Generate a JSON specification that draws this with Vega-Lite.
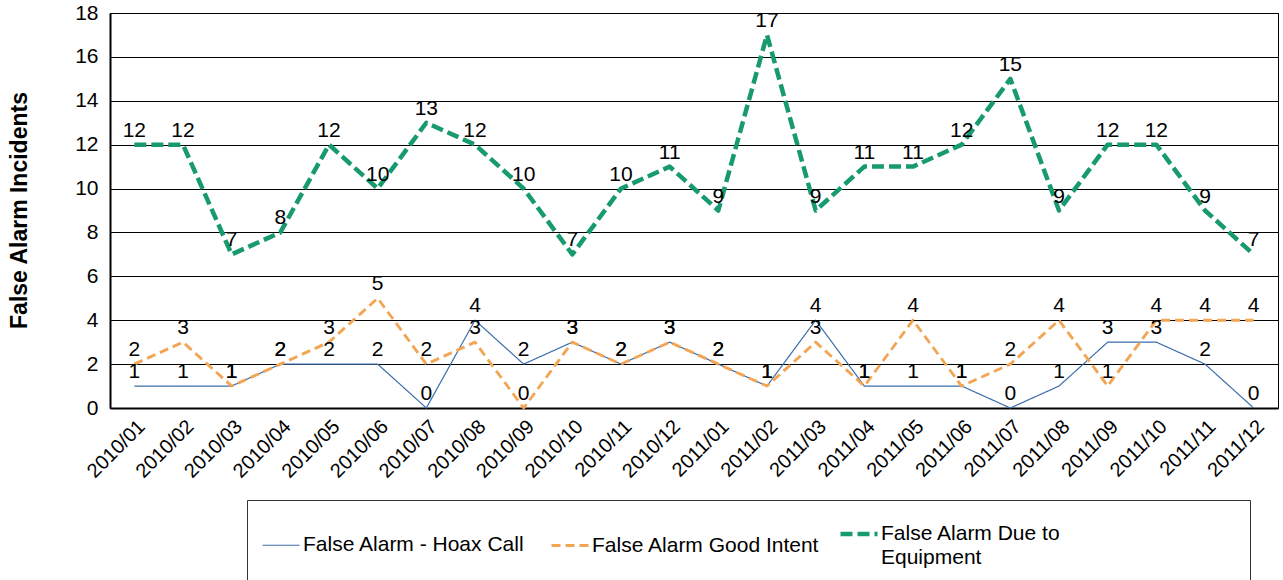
{
  "$schema": "https://vega.github.io/schema/vega-lite/v6.json",
  "width": 1168,
  "height": 395,
  "autosize": "none",
  "padding": {"left": 110, "top": 13, "right": 5, "bottom": 172},
  "background": "white",
  "config": {
    "font": "Liberation Sans",
    "view": {"stroke": "black", "strokeWidth": 1}
  },
  "data": {
    "values": [
      {"month": "2010/01", "hoax": 1, "good": 2, "equip": 12},
      {"month": "2010/02", "hoax": 1, "good": 3, "equip": 12},
      {"month": "2010/03", "hoax": 1, "good": 1, "equip": 7},
      {"month": "2010/04", "hoax": 2, "good": 2, "equip": 8},
      {"month": "2010/05", "hoax": 2, "good": 3, "equip": 12},
      {"month": "2010/06", "hoax": 2, "good": 5, "equip": 10},
      {"month": "2010/07", "hoax": 0, "good": 2, "equip": 13},
      {"month": "2010/08", "hoax": 4, "good": 3, "equip": 12},
      {"month": "2010/09", "hoax": 2, "good": 0, "equip": 10},
      {"month": "2010/10", "hoax": 3, "good": 3, "equip": 7},
      {"month": "2010/11", "hoax": 2, "good": 2, "equip": 10},
      {"month": "2010/12", "hoax": 3, "good": 3, "equip": 11},
      {"month": "2011/01", "hoax": 2, "good": 2, "equip": 9},
      {"month": "2011/02", "hoax": 1, "good": 1, "equip": 17},
      {"month": "2011/03", "hoax": 4, "good": 3, "equip": 9},
      {"month": "2011/04", "hoax": 1, "good": 1, "equip": 11},
      {"month": "2011/05", "hoax": 1, "good": 4, "equip": 11},
      {"month": "2011/06", "hoax": 1, "good": 1, "equip": 12},
      {"month": "2011/07", "hoax": 0, "good": 2, "equip": 15},
      {"month": "2011/08", "hoax": 1, "good": 4, "equip": 9},
      {"month": "2011/09", "hoax": 3, "good": 1, "equip": 12},
      {"month": "2011/10", "hoax": 3, "good": 4, "equip": 12},
      {"month": "2011/11", "hoax": 2, "good": 4, "equip": 9},
      {"month": "2011/12", "hoax": 0, "good": 4, "equip": 7}
    ]
  },
  "transform": [
    {"fold": ["hoax", "good", "equip"], "as": ["key", "value"]},
    {"lookup": "key", "from": {"data": {"values": [
      {"key": "hoax", "series": "False Alarm - Hoax Call"},
      {"key": "good", "series": "False Alarm Good Intent"},
      {"key": "equip", "series": "False Alarm Due to Equipment"}
    ]}, "key": "key", "fields": ["series"]}}
  ],
  "encoding": {
    "x": {
      "field": "month", "type": "ordinal",
      "scale": {"type": "point", "padding": 0.5},
      "axis": {
        "title": null, "labelAngle": -45, "labelFontSize": 20, "labelColor": "black",
        "ticks": false, "domainColor": "black", "domainWidth": 2, "labelPadding": 8, "grid": false
      }
    },
    "y": {
      "field": "value", "type": "quantitative",
      "scale": {"domain": [0, 18], "nice": false},
      "axis": {
        "title": "False Alarm Incidents", "titleFontSize": 23, "titleFontWeight": "bold", "titleColor": "black",
        "titleX": -91, "titleY": 197, "titleBaseline": "middle", "titleAngle": -90,
        "values": [0, 2, 4, 6, 8, 10, 12, 14, 16, 18],
        "labelFontSize": 21, "labelColor": "black", "labelPadding": 12, "ticks": false,
        "domainColor": "black", "domainWidth": 2,
        "grid": true, "gridColor": "black", "gridWidth": 1, "gridOpacity": 1
      }
    }
  },
  "layer": [
    {
      "mark": {"type": "line", "strokeJoin": "round"},
      "encoding": {
        "color": {
          "field": "series", "type": "nominal",
          "scale": {
            "domain": ["False Alarm - Hoax Call", "False Alarm Good Intent", "False Alarm Due to Equipment"],
            "range": ["#3c6eab", "#f2a553", "#179a6f"]
          },
          "legend": {
            "title": " ", "titleOrient": "right", "titlePadding": 176, "titleFontSize": 2,
            "orient": "none", "legendX": 137, "legendY": 487,
            "direction": "horizontal", "columns": 3, "gridAlign": "all", "columnPadding": 11,
            "padding": 13, "strokeColor": "#333333",
            "labelFontSize": 21, "labelColor": "black", "labelOffset": 1, "labelLimit": 400,
            "symbolType": "stroke", "symbolSize": 1369,
            "labelExpr": "datum.label == 'False Alarm Due to Equipment' ? ['False Alarm Due to', 'Equipment'] : datum.label",
            "encode": {"labels": {"update": {"lineHeight": {"value": 24}}}}
          }
        },
        "strokeDash": {
          "field": "series", "type": "nominal",
          "scale": {
            "domain": ["False Alarm - Hoax Call", "False Alarm Good Intent", "False Alarm Due to Equipment"],
            "range": [[1, 0], [9, 5], [12, 5]]
          }
        },
        "strokeWidth": {
          "field": "series", "type": "nominal",
          "scale": {
            "domain": ["False Alarm - Hoax Call", "False Alarm Good Intent", "False Alarm Due to Equipment"],
            "range": [1.2, 4.5, 6]
          }
        }
      }
    },
    {
      "mark": {"type": "text", "baseline": "alphabetic", "dy": -8, "fontSize": 21, "color": "black"},
      "encoding": {
        "text": {"field": "value", "type": "quantitative"}
      }
    }
  ]
}
